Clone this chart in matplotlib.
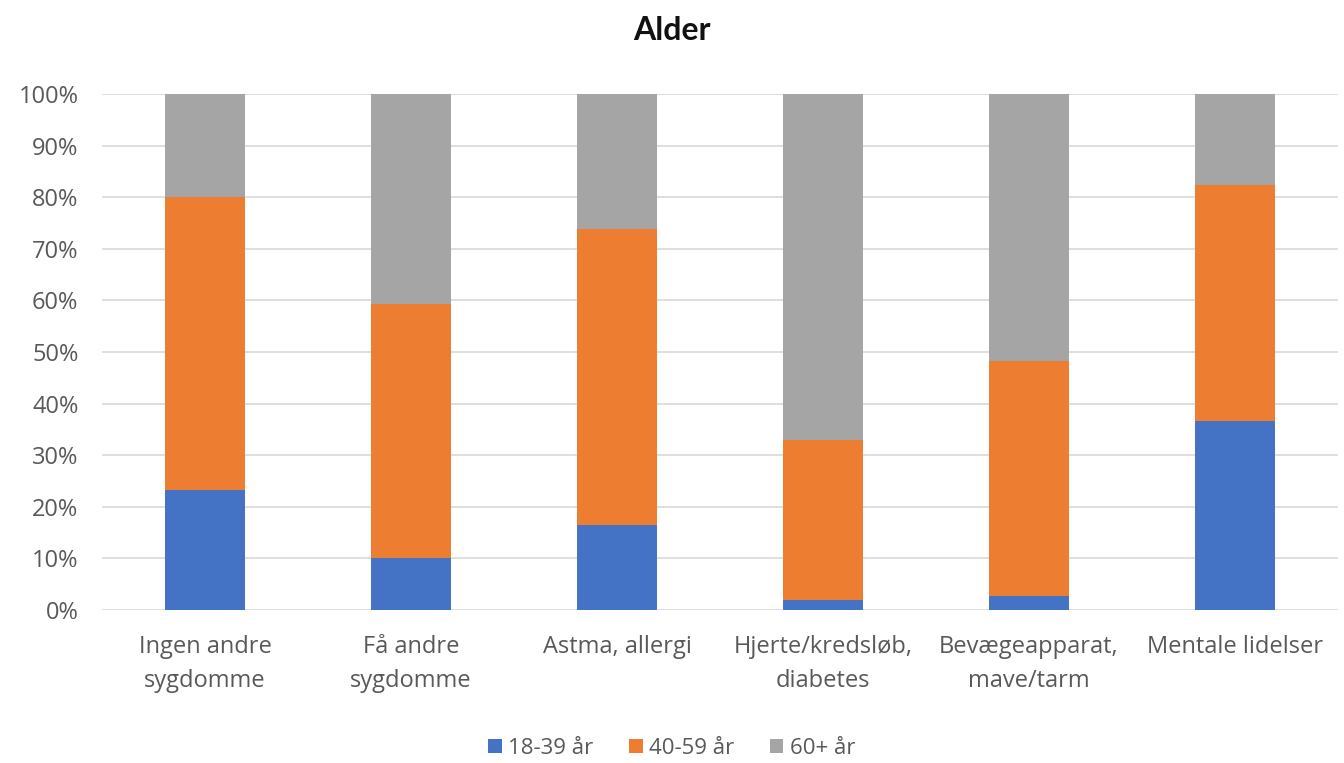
import matplotlib.pyplot as plt
import numpy as np

categories = ["Ingen andre\nsygdomme", "Få andre\nsygdomme", "Astma, allergi",
              "Hjerte/kredsløb,\ndiabetes", "Bevægeapparat,\nmave/tarm", "Mentale lidelser"]
age_18_39 = [23.3, 10.1, 16.5, 2.0, 2.7, 36.7]
age_40_59 = [56.7, 49.2, 57.3, 31.0, 45.6, 45.6]
age_60_plus = [20.0, 40.7, 26.2, 67.0, 51.7, 17.7]
series_labels = ["18-39 år", "40-59 år", "60+ år"]
colors = ["#4472C4", "#ED7D31", "#A5A5A5"]

plt.rcParams['font.family'] = ['Open Sans', 'DejaVu Sans']

fig = plt.figure(figsize=(13.44, 7.63), dpi=100)
ax = fig.add_axes([102 / 1344, 1 - 610 / 763, 1236 / 1344, 516 / 763])

x = np.arange(len(categories))
bottom = np.zeros(len(categories))
for vals, lab, col in zip([age_18_39, age_40_59, age_60_plus], series_labels, colors):
    ax.bar(x, vals, width=0.39, bottom=bottom, color=col, label=lab, zorder=3)
    bottom += np.array(vals)

ax.set_xlim(-0.5, len(categories) - 0.5)
ax.set_ylim(0, 100)
ax.set_yticks(np.arange(0, 101, 10))
ax.set_yticklabels([f"{v}%" for v in range(0, 101, 10)])
ax.set_xticks(x)
ax.set_xticklabels(categories, linespacing=1.55)
ax.tick_params(axis='both', length=0, colors='#595959', labelsize=17)
ax.tick_params(axis='x', pad=18)
ax.tick_params(axis='y', pad=17)
ax.grid(axis='y', color='#D9D9D9', linewidth=1.2, zorder=0)
for s in ax.spines.values():
    s.set_visible(False)

fig.suptitle("Alder", y=1 - 30 / 763, va='center', fontsize=23, fontweight='bold',
             family=['Lato', 'DejaVu Sans'], color='#111111')

leg = fig.legend(loc='center', bbox_to_anchor=(0.5, 1 - 748 / 763), ncol=3, frameon=False,
                 fontsize=16, handlelength=0.6, handleheight=0.6, handletextpad=0.3,
                 columnspacing=1.6)
for t in leg.get_texts():
    t.set_color('#595959')

fig.savefig("out.png", dpi=100)
